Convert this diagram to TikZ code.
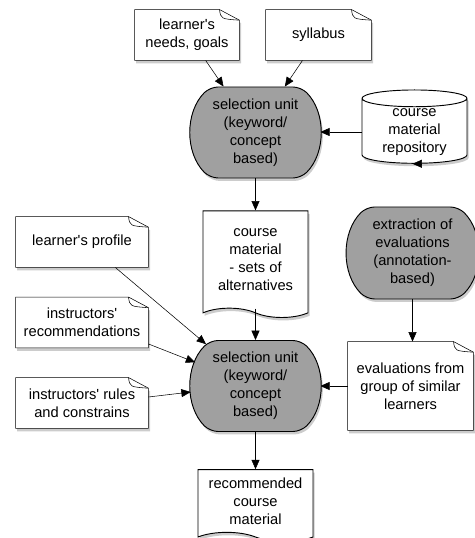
\documentclass[tikz,border=0pt]{standalone}
\usepackage{fontspec}
\newfontfamily\labelfont{Liberation Sans}
\usepackage{tikz}
\usetikzlibrary{arrows.meta,shapes.geometric,shapes.misc,shapes.symbols,shadows}

\pgfdeclarelayer{background}
\pgfsetlayers{background,main}

\definecolor{unitgray}{RGB}{160,160,160}

\tikzset{
  softshadow/.style={drop shadow={shadow xshift=1.2pt,shadow yshift=-2.2pt,opacity=0.4}},
  note/.style={rectangle, align=center, inner sep=2pt, minimum height=37.5pt},
  unit/.style={rounded rectangle, rounded rectangle arc length=90, rounded corners=6pt,
    draw, fill=unitgray, softshadow, align=center, inner sep=1pt,
    minimum width=87pt, minimum height=68.25pt},
  doc/.style={tape, tape bend top=none, tape bend bottom=out and in, tape bend height=7pt,
    draw, fill=white, softshadow, align=center, inner sep=1pt},
  store/.style={cylinder, shape border rotate=90, aspect=0.25, draw, fill=white,
    softshadow, align=center, inner sep=1pt},
}

\begin{document}
\begin{tikzpicture}[x=0.75pt,y=-0.75pt,->,>={Triangle[length=7pt,width=6pt]},line width=0.7pt,
  font=\labelfont\fontsize{11pt}{13.5pt}\selectfont]
  \useasboundingbox (0,0) rectangle (474,538);

  % inputs of the first selection
  \node[note, minimum width=78pt] (needs) at (187,35) {learner's\\needs, goals};
  \node[note, minimum width=78.75pt] (syllabus) at (318.5,35) {syllabus};
  \node[store, minimum width=78.75pt, minimum height=52.5pt] (repo) at (414.5,132) {course\\material\\repository};

  \node[unit] (sel1) at (255.5,132.5) {selection unit\\(keyword/\\concept\\based)};
  \node[doc, minimum width=78.75pt, minimum height=80pt] (alt) at (255.5,259.5) {course\\material\\- sets of\\alternatives};
  \node[unit, minimum width=86pt, minimum height=69pt] (extract) at (412.5,253) {extraction of\\evaluations\\(annotation-\\based)};

  % inputs of the second selection
  \node[note, minimum width=99pt] (profile) at (82,242) {learner's profile};
  \node[note, minimum width=99pt] (recs) at (82,322.5) {instructors'\\recommendations};
  \node[note, minimum width=99pt] (rules) at (82,403) {instructors' rules\\and constrains};
  \node[note, minimum width=93.75pt, minimum height=66pt] (evals) at (410.5,386) {evaluations from\\group of similar\\learners};

  \node[unit] (sel2) at (255.5,386) {selection unit\\(keyword/\\concept\\based)};
  \node[doc, minimum width=86.25pt, minimum height=54pt] (result) at (255.5,501) {recommended\\course\\material};

  % note outlines with folded corner
  \begin{pgfonlayer}{background}
    \foreach \n in {needs,syllabus,profile,recs,rules,evals}
      \draw[-, fill=white, softshadow] (\n.north west) -- ([xshift=-15pt]\n.north east)
        -- ([yshift=-8pt]\n.north east) -- (\n.south east) -- (\n.south west) -- cycle;
  \end{pgfonlayer}
  \foreach \n in {needs,syllabus,profile,recs,rules,evals}
    \draw[-] ([xshift=-15pt]\n.north east)
      .. controls ([xshift=-14pt,yshift=-7pt]\n.north east) .. ([yshift=-8pt]\n.north east);

  \draw ([xshift=14pt]needs.south) -- ([xshift=-24pt]sel1.north);
  \draw ([xshift=-12pt]syllabus.south) -- ([xshift=22pt]sel1.north);
  \draw (repo.west) -- (repo.west -| sel1.east);
  \draw (sel1.south) -- (alt.north);
  \draw (repo.south) -- (repo.south -| extract.north);
  \draw (extract.south) -- (extract.south |- evals.north);
  \draw (alt.south) -- (sel2.north);
  \draw ([xshift=25pt]profile.south) -- (sel2);
  \draw ([yshift=3pt]recs.south east) -- (sel2);
  \draw ([yshift=4.5pt]rules.east) -- ([yshift=-4.5pt]sel2.west);
  \draw (evals.west) -- (evals.west -| sel2.east);
  \draw (sel2.south) -- (result.north);
\end{tikzpicture}
\end{document}
